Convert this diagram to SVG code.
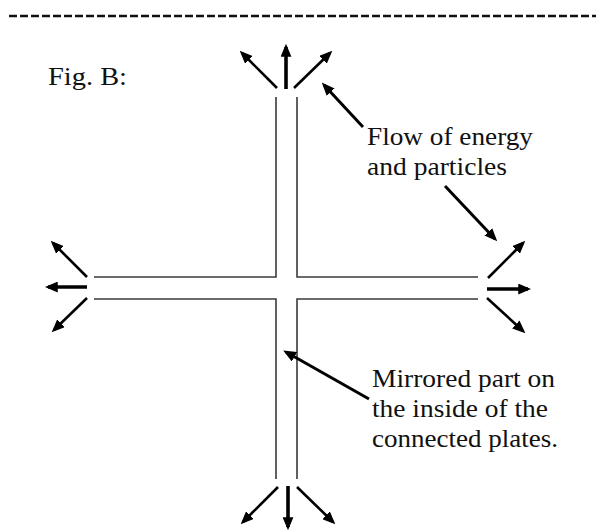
<svg xmlns="http://www.w3.org/2000/svg" width="600" height="530" viewBox="0 0 600 530">
<style>
.bar{stroke:#3a3a3a;stroke-width:1.6;fill:none}
.arr{stroke:#000;stroke-width:2.6;fill:none;marker-end:url(#ah)}
.arrc{stroke:#000;stroke-width:3.6;fill:none;marker-end:url(#ah)}
.ptr{stroke:#000;stroke-width:3;fill:none;marker-end:url(#ah)}
.t{font-family:"Liberation Serif","Times New Roman",serif;font-size:26px;fill:#111}
</style>
<defs>
<marker id="ah" viewBox="0 0 12 10" refX="9" refY="5" markerWidth="13" markerHeight="11" orient="auto" markerUnits="userSpaceOnUse">
<path d="M0,0 L12,5 L0,10 Z" fill="#000"/>
</marker>
</defs>
<rect width="600" height="530" fill="#fff"/>
<line x1="9" y1="16" x2="596" y2="16" stroke="#111" stroke-width="2.6" stroke-dasharray="8 3"/>
<g id="title"><text class="t" x="48" y="85" font-size="28" textLength="79" lengthAdjust="spacingAndGlyphs">Fig. B:</text></g>
<g id="plates">
<path class="bar" d="M276,97 V277 H94 M297,97 V277 H478 M94,299 H276 V479 M478,299 H297 V479"/>
</g>
<g id="connectors">
<line class="arr" x1="277" y1="88" x2="242" y2="53"/>
<line class="arrc" x1="286" y1="89" x2="286" y2="47"/>
<line class="arr" x1="294" y1="88" x2="330" y2="53"/>
<line class="arr" x1="87" y1="277" x2="53" y2="243"/>
<line class="arrc" x1="87" y1="287" x2="48" y2="287"/>
<line class="arr" x1="87" y1="298" x2="54" y2="330"/>
<line class="arr" x1="488" y1="278" x2="523" y2="243"/>
<line class="arrc" x1="487" y1="289" x2="528" y2="289"/>
<line class="arr" x1="487" y1="298" x2="523" y2="331"/>
<line class="arr" x1="278" y1="487" x2="243" y2="522"/>
<line class="arrc" x1="288" y1="486" x2="288" y2="527"/>
<line class="arr" x1="297" y1="487" x2="333" y2="522"/>
<line class="ptr" x1="363" y1="127" x2="324" y2="85"/>
<line class="ptr" x1="445" y1="186" x2="495" y2="239"/>
<line class="ptr" x1="369" y1="399" x2="286" y2="352"/>
</g>
<g id="label-flow">
<text class="t" x="367" y="145" textLength="166" lengthAdjust="spacingAndGlyphs">Flow of energy</text>
<text class="t" x="367" y="175" textLength="140" lengthAdjust="spacingAndGlyphs">and particles</text>
</g>
<g id="label-mirror">
<text class="t" x="372" y="387" textLength="183" lengthAdjust="spacingAndGlyphs">Mirrored part on</text>
<text class="t" x="372" y="417" textLength="176" lengthAdjust="spacingAndGlyphs">the inside of the</text>
<text class="t" x="372" y="447" textLength="186" lengthAdjust="spacingAndGlyphs">connected plates.</text>
</g>
</svg>
